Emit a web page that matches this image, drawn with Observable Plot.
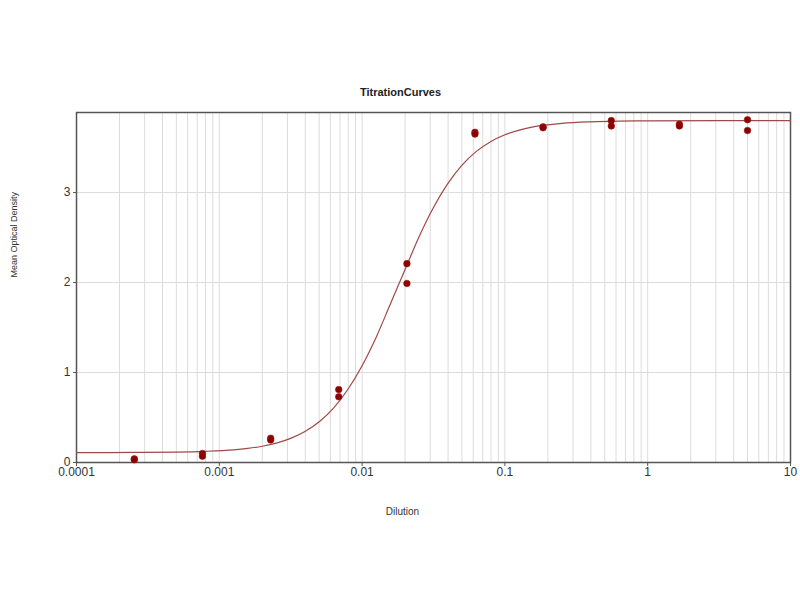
<!DOCTYPE html>
<html>
<head>
<meta charset="utf-8">
<script src="https://cdn.jsdelivr.net/npm/d3@7"></script>
<script src="https://cdn.jsdelivr.net/npm/@observablehq/plot@0.6"></script>
<style>
  body { margin: 0; background: #fff; }
</style>
</head>
<body>
<div id="chart"></div>
<script>
// 3-fold serial dilution, two replicate wells per dilution
const dilution = [0.000254, 0.000762, 0.00229, 0.00686, 0.0206, 0.0617, 0.185, 0.556, 1.667, 5];
const rep1 = [0.04, 0.10, 0.27, 0.81, 2.21, 3.67, 3.73, 3.80, 3.76, 3.81];
const rep2 = [0.03, 0.07, 0.25, 0.73, 1.99, 3.65, 3.72, 3.74, 3.74, 3.69];

// fitted curve
const curveX = [0.0001, 0.000251, 0.000501, 0.000794, 0.00126, 0.00158, 0.002, 0.00251,
  0.00316, 0.00398, 0.00501, 0.00631, 0.00794, 0.01, 0.0126, 0.0158, 0.02, 0.0251,
  0.0316, 0.0398, 0.0501, 0.0631, 0.0794, 0.1, 0.126, 0.158, 0.2, 0.251, 0.398,
  0.631, 1, 3.16, 10];
const curveY = [0.110, 0.112, 0.116, 0.124, 0.141, 0.157, 0.181, 0.216,
  0.268, 0.344, 0.453, 0.605, 0.811, 1.076, 1.399, 1.765, 2.146, 2.511,
  2.834, 3.099, 3.305, 3.458, 3.566, 3.642, 3.694, 3.730, 3.753, 3.769, 3.786,
  3.794, 3.797, 3.80, 3.80];

const xTicks = [0.0001, 0.001, 0.01, 0.1, 1, 10];
const yTicks = [0, 1, 2, 3];

const points = dilution.flatMap((d, i) => [
  { x: d, y: rep1[i] },
  { x: d, y: rep2[i] }
]);
const curve = curveX.map((x, i) => ({ x, y: curveY[i] }));
const logGrid = d3.scaleLog().domain([0.0001, 10]).ticks();

const font = "'Liberation Sans', Arial, sans-serif";

const fig = Plot.plot({
  width: 800,
  height: 600,
  marginLeft: 76,
  marginRight: 10,
  marginTop: 112,
  marginBottom: 138,
  style: { fontFamily: font, fontSize: "12px", color: "#333", background: "#fff" },
  x: { type: "log", domain: [0.0001, 10] },
  y: { domain: [0, 3.89] },
  marks: [
    Plot.gridX(logGrid, { stroke: "#dcdcdc", strokeOpacity: 1 }),
    Plot.gridY([1, 2, 3], { stroke: "#dcdcdc", strokeOpacity: 1 }),
    Plot.frame({ stroke: "#555", strokeWidth: 1.5 }),
    Plot.axisX(xTicks, { tickFormat: (d) => String(d), tickSize: 4, tickPadding: 1, label: null, stroke: "#555" }),
    Plot.axisY(yTicks, { tickFormat: (d) => String(d), tickSize: 3, tickPadding: 3, label: null, stroke: "#555" }),
    Plot.line(curve, { x: "x", y: "y", stroke: "#a04848", strokeWidth: 1.2, curve: "monotone-x" }),
    Plot.dot(points, { x: "x", y: "y", r: 3.3, fill: "#8b0000", stroke: "#a01818", strokeWidth: 0.6 }),
    Plot.text(["TitrationCurves"], { frameAnchor: "top", dx: -33, dy: -24, fontWeight: "bold", fontSize: 11, fill: "#222" }),
    Plot.text(["Dilution"], { frameAnchor: "bottom", dx: -31, dy: 52, fontSize: 10, fill: "#333" }),
    Plot.text(["Mean Optical Density"], { frameAnchor: "left", dx: -62, dy: -10, rotate: -90, fontSize: 9, fill: "#333" })
  ]
});

document.getElementById("chart").replaceChildren(fig);
</script>
</body>
</html>
